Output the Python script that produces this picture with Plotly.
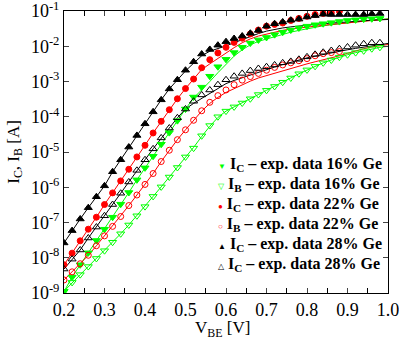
import plotly.graph_objects as go

V = [round(0.20 + 0.02 * i, 2) for i in range(40)]  # 0.20 ... 0.98 measured points
V_fit = [round(0.20 + 0.02 * i, 2) for i in range(41)]  # 0.20 ... 1.00 model curves

# log10 of currents
logIC16 = [-8.96, -8.55, -8.20, -7.86, -7.51, -7.19, -6.85, -6.48, -6.15, -5.79,
           -5.45, -5.12, -4.78, -4.45, -4.11, -3.78, -3.44, -3.16, -2.85, -2.58,
           -2.37, -2.18, -2.03, -1.91, -1.82, -1.75, -1.67, -1.60, -1.54, -1.48,
           -1.43, -1.39, -1.36, -1.33, -1.30, -1.27, -1.25, -1.23, -1.22, -1.21]
logIB16 = [-8.95, -8.70, -8.48, -8.25, -8.02, -7.80, -7.56, -7.32, -7.07, -6.81,
           -6.55, -6.26, -5.99, -5.71, -5.44, -5.14, -4.89, -4.54, -4.25, -4.00,
           -3.84, -3.72, -3.61, -3.49, -3.37, -3.25, -3.14, -3.02, -2.90, -2.78,
           -2.67, -2.57, -2.47, -2.39, -2.31, -2.24, -2.18, -2.13, -2.07, -2.03]
logIC22 = [-8.20, -7.87, -7.52, -7.19, -6.85, -6.49, -6.16, -5.82, -5.49, -5.14,
           -4.81, -4.46, -4.13, -3.80, -3.49, -3.20, -2.93, -2.61, -2.38, -2.19,
           -2.03, -1.89, -1.77, -1.65, -1.54, -1.43, -1.38, -1.34, -1.27, -1.21,
           -1.15, -1.10, -1.07, -1.05, -1.01]
logIB22 = [-8.63, -8.40, -8.17, -7.93, -7.66, -7.38, -7.11, -6.83, -6.52, -6.22,
           -5.92, -5.61, -5.27, -4.95, -4.65, -4.37, -4.10, -3.83, -3.59, -3.40,
           -3.24, -3.09, -2.96, -2.86, -2.77, -2.68, -2.60, -2.53, -2.47, -2.41,
           -2.35, -2.27, -2.21, -2.18, -2.15]
logIC28 = [-7.58, -7.23, -6.90, -6.58, -6.27, -5.96, -5.56, -5.22, -4.86, -4.53,
           -4.20, -3.86, -3.52, -3.21, -2.95, -2.68, -2.44, -2.22, -2.09, -1.97,
           -1.87, -1.78, -1.71, -1.63, -1.55, -1.43, -1.36, -1.31, -1.26, -1.23,
           -1.17, -1.13, -1.09, -1.10, -1.10, -1.10, -1.10, -1.10, -1.08, -1.07]
logIB28 = [-8.32, -8.04, -7.78, -7.44, -7.13, -6.81, -6.49, -6.17, -5.85, -5.52,
           -5.22, -4.91, -4.60, -4.32, -4.03, -3.78, -3.56, -3.38, -3.24, -3.09,
           -2.95, -2.85, -2.77, -2.69, -2.63, -2.58, -2.53, -2.47, -2.43, -2.37,
           -2.30, -2.23, -2.17, -2.12, -2.07, -2.02, -1.97, -1.93, -1.90, -1.90]

# model curves (log10)
fitIC16 = [-8.96, -8.55, -8.20, -7.86, -7.51, -7.19, -6.85, -6.48, -6.15, -5.79,
           -5.45, -5.12, -4.78, -4.45, -4.11, -3.78, -3.47, -3.24, -3.00, -2.75,
           -2.50, -2.28, -2.10, -1.96, -1.86, -1.79, -1.72, -1.66, -1.60, -1.55,
           -1.50, -1.46, -1.42, -1.39, -1.36, -1.33, -1.30, -1.28, -1.26, -1.24, -1.22]
fitIB16 = [-8.95, -8.70, -8.48, -8.25, -8.02, -7.80, -7.56, -7.32, -7.07, -6.81,
           -6.55, -6.26, -5.99, -5.71, -5.44, -5.14, -4.87, -4.56, -4.27, -4.02,
           -3.84, -3.72, -3.61, -3.49, -3.37, -3.25, -3.14, -3.02, -2.90, -2.78,
           -2.67, -2.57, -2.47, -2.39, -2.31, -2.24, -2.18, -2.13, -2.07, -2.03, -2.00]
fitIC22 = [-8.20, -7.87, -7.52, -7.19, -6.85, -6.49, -6.16, -5.82, -5.49, -5.14,
           -4.81, -4.46, -4.13, -3.80, -3.49, -3.20, -2.93, -2.66, -2.50, -2.34,
           -2.19, -2.04, -1.90, -1.79, -1.71, -1.65, -1.60, -1.55, -1.51, -1.48,
           -1.45, -1.42, -1.40, -1.38, -1.36, -1.33, -1.31, -1.29, -1.27, -1.25, -1.23]
fitIB22 = [-8.63, -8.40, -8.17, -7.93, -7.66, -7.38, -7.11, -6.83, -6.52, -6.22,
           -5.92, -5.61, -5.27, -4.95, -4.65, -4.37, -4.10, -3.84, -3.62, -3.45,
           -3.31, -3.20, -3.09, -2.99, -2.90, -2.83, -2.76, -2.69, -2.62, -2.56,
           -2.50, -2.44, -2.39, -2.34, -2.27, -2.20, -2.13, -2.07, -2.02, -1.98, -1.95]
fitIC28 = [-7.58, -7.23, -6.90, -6.58, -6.27, -5.96, -5.56, -5.22, -4.86, -4.53,
           -4.20, -3.86, -3.52, -3.21, -2.95, -2.70, -2.48, -2.27, -2.14, -2.07,
           -1.99, -1.90, -1.81, -1.72, -1.64, -1.57, -1.52, -1.48, -1.45, -1.42,
           -1.40, -1.38, -1.36, -1.34, -1.32, -1.30, -1.28, -1.27, -1.26, -1.25, -1.24]
fitIB28 = [-8.32, -8.04, -7.78, -7.44, -7.13, -6.81, -6.49, -6.17, -5.85, -5.52,
           -5.22, -4.91, -4.60, -4.32, -4.03, -3.78, -3.62, -3.48, -3.33, -3.19,
           -3.06, -2.97, -2.89, -2.81, -2.73, -2.66, -2.59, -2.52, -2.45, -2.39,
           -2.33, -2.28, -2.23, -2.19, -2.14, -2.10, -2.06, -2.02, -1.98, -1.95, -1.92]

GREEN = "#00ff00"
RED = "#ff0000"
BLACK = "#000000"

labels = [
    "I<sub>C</sub> – exp. data 16% Ge",
    "I<sub>B</sub> – exp. data 16% Ge",
    "I<sub>C</sub> – exp. data 22% Ge",
    "I<sub>B</sub> – exp. data 22% Ge",
    "I<sub>C</sub> – exp. data 28% Ge",
    "I<sub>C</sub> – exp. data 28% Ge",
]
glyphs = ["▼", "▽", "●", "○", "▲", "△"]
series = [
    (logIC16, fitIC16, GREEN, "triangle-down", 7),
    (logIB16, fitIB16, GREEN, "triangle-down-open", 7),
    (logIC22, fitIC22, RED, "circle", 6),
    (logIB22, fitIB22, RED, "circle-open", 6),
    (logIC28, fitIC28, BLACK, "triangle-up", 7),
    (logIB28, fitIB28, BLACK, "triangle-up-open", 7),
]

fig = go.Figure()
for data, fit, col, sym, sz in series:
    fig.add_trace(go.Scatter(x=V_fit, y=[10 ** v for v in fit], mode="lines",
                             line=dict(color=col, width=1), showlegend=False,
                             hoverinfo="skip"))
for (data, fit, col, sym, sz), lab in zip(series, labels):
    fig.add_trace(go.Scatter(x=V[:len(data)], y=[10 ** v for v in data], mode="markers",
                             showlegend=False, name=lab,
                             marker=dict(symbol=sym, size=sz, color=col,
                                         line=dict(color=col, width=1))))

font = "Liberation Serif"

# legend drawn as text rows inside the plot
row_top = 0.455   # paper y of first row
row_step = 0.071
for i, ((data, fit, col, sym, sz), lab, g) in enumerate(zip(series, labels, glyphs)):
    fig.add_annotation(
        xref="paper", yref="paper", x=0.47, y=row_top - i * row_step,
        xanchor="left", yanchor="middle", showarrow=False,
        text='<span style="color:%s;font-size:8px">%s</span> <b>%s</b>' % (col, g, lab),
        font=dict(family=font, size=16, color="black"))

# axis titles
fig.add_annotation(xref="paper", yref="paper", x=0.49, y=-0.128,
                   xanchor="center", yanchor="middle", showarrow=False,
                   text="V<sub>BE</sub> [V]", font=dict(family=font, size=17, color="black"))
fig.add_annotation(xref="paper", yref="paper", x=-0.152, y=0.5,
                   xanchor="center", yanchor="middle", showarrow=False, textangle=-90,
                   text="I<sub>C</sub>, I<sub>B</sub> [A]",
                   font=dict(family=font, size=17, color="black"))

ytick_vals = [10 ** e for e in range(-9, 0)]
ytick_text = ["10<sup>-%d</sup>" % (-e) for e in range(-9, 0)]

fig.update_layout(
    width=399, height=343,
    margin=dict(l=64, r=11, t=11, b=50, autoexpand=False),
    paper_bgcolor="white", plot_bgcolor="white",
    font=dict(family=font, size=18, color="black"),
    showlegend=False,
    xaxis=dict(range=[0.2, 1.0], dtick=0.1, tick0=0.2, tickformat=".1f",
               ticks="inside", ticklen=5, mirror="ticks", showline=True,
               linecolor="black", linewidth=1, showgrid=False, zeroline=False,
               tickfont=dict(size=18), automargin=False, ticklabeloverflow="allow",
               minor=dict(dtick=0.05, ticks="inside", ticklen=5, tickcolor="black")),
    yaxis=dict(type="log", range=[-9.0005, -0.9995], tickvals=ytick_vals, ticktext=ytick_text,
               ticks="inside", ticklen=5, mirror="ticks", showline=True,
               linecolor="black", linewidth=1, showgrid=False, zeroline=False,
               tickfont=dict(size=18), automargin=False, ticklabeloverflow="allow"),
)

fig.write_html("out.html")
